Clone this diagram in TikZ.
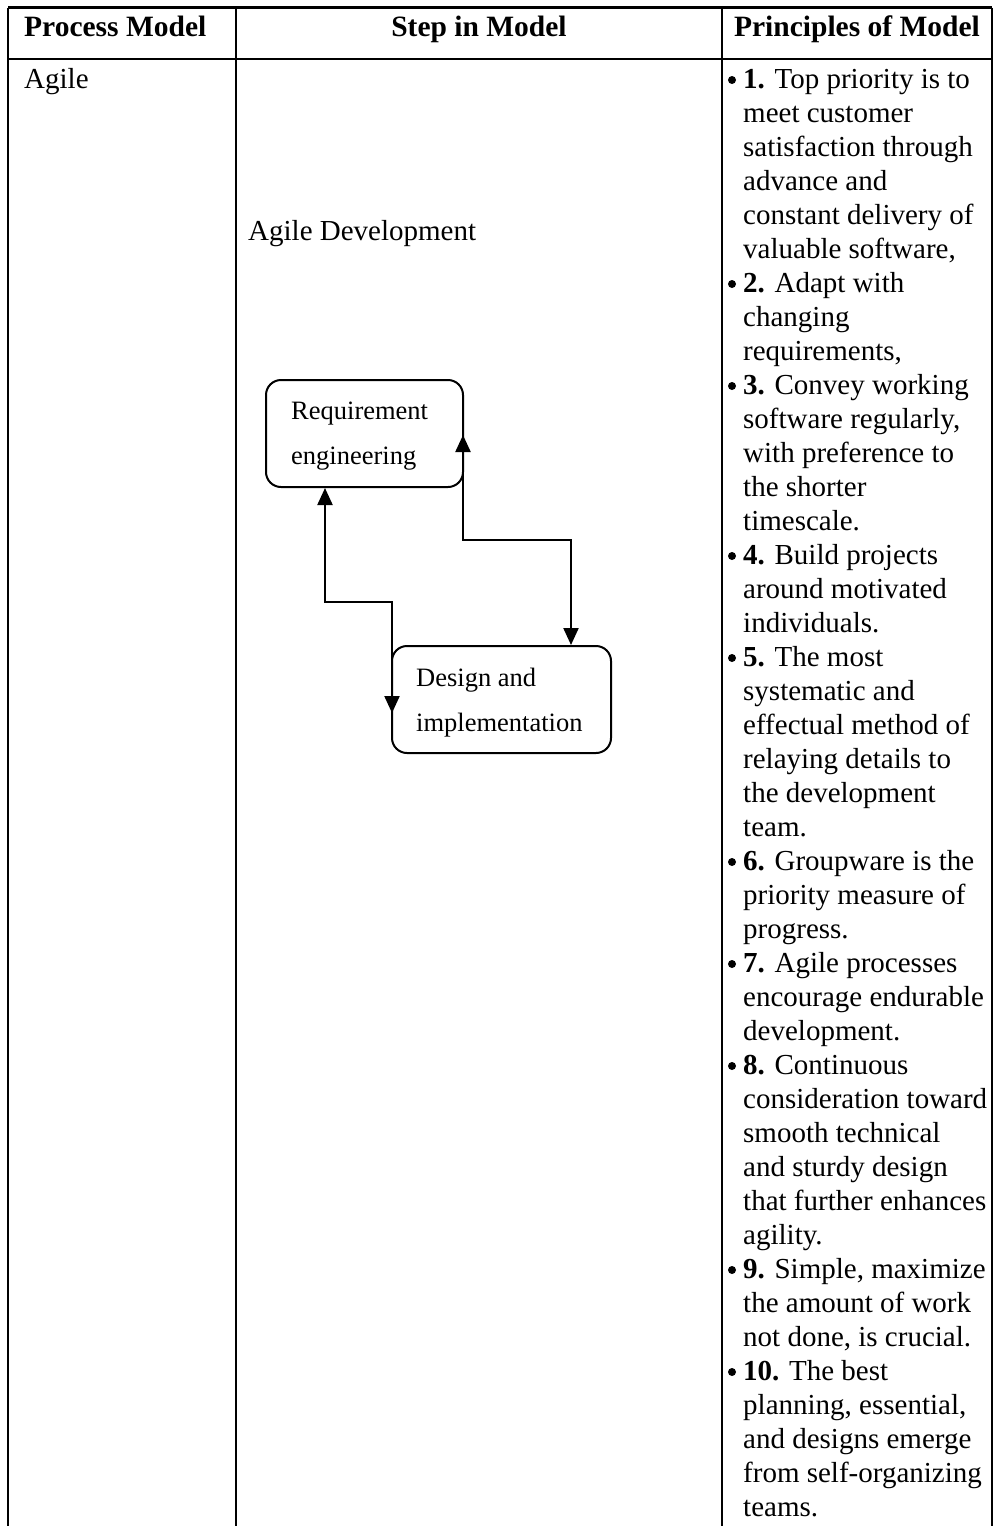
\documentclass[tikz,border=0pt]{standalone}
\usepackage{fontspec}
\setmainfont{Liberation Serif}
\usetikzlibrary{arrows.meta}
\begin{document}
\begin{tikzpicture}[x=1pt,y=-1pt,
  rule/.style={line width=2.5pt},
  bodytext/.style={anchor=base west,inner sep=0pt,font=\fontsize{29}{34}\selectfont},
  headtext/.style={anchor=base,inner sep=0pt,font=\fontsize{29.5}{34}\selectfont\bfseries},
  boxtext/.style={anchor=base west,inner sep=0pt,font=\fontsize{26.5}{30}\selectfont},
  stage/.style={draw,line width=2pt,rounded corners=15pt,inner sep=0pt,minimum height=107pt},
  flow/.style={line width=2.2pt,{Triangle[width=15pt,length=17pt]}-{Triangle[width=15pt,length=17pt]}}
]
\useasboundingbox (0,0) rectangle (995,1526);

% table grid
\draw[rule] (8,7.5) -- (992,7.5);
\draw[rule] (8,59) -- (992,59);
\foreach \x in {8,236,722,992} \draw[rule] (\x,7.5) -- (\x,1526);

% header row
\node[headtext,anchor=base west] (h1) at (24,36) {Process Model};
\node[headtext] (h2) at (479,36) {Step in Model};
\node[headtext] (h3) at (857,36) {Principles of Model};

% first column
\node[bodytext] (agile) at (24,88) {Agile};

% second column: process diagram
\node[bodytext] (title) at (248,240) {Agile Development};
\node[stage,minimum width=197pt] (req) at (364.5,433.5) {};
\node[stage,minimum width=219pt] (des) at (501.5,699.5) {};
\node[boxtext] (reqa) at (291,419) {Requirement};
\node[boxtext] (reqb) at (291,464) {engineering};
\node[boxtext] (desa) at (416,686) {Design and};
\node[boxtext] (desb) at (416,731) {implementation};

\coordinate (ka) at (325,602);
\coordinate (kc) at (392,713);
\coordinate (kd) at (463,435);
\coordinate (ke) at (571,540);
\draw[flow] (ka |- req.south) -- (ka) -- (kc |- ka) -- (kc);
\draw[flow] (kd) -- (kd |- ke) -- (ke) -- (ke |- des.north);

% third column: principles
\foreach \t [count=\i from 0] in {
  {\textbf{1.} Top priority is to},
  {meet customer},
  {satisfaction through},
  {advance and},
  {constant delivery of},
  {valuable software,},
  {\textbf{2.} Adapt with},
  {changing},
  {requirements,},
  {\textbf{3.} Convey working},
  {software regularly,},
  {with preference to},
  {the shorter},
  {timescale.},
  {\textbf{4.} Build projects},
  {around motivated},
  {individuals.},
  {\textbf{5.} The most},
  {systematic and},
  {effectual method of},
  {relaying details to},
  {the development},
  {team.},
  {\textbf{6.} Groupware is the},
  {priority measure of},
  {progress.},
  {\textbf{7.} Agile processes},
  {encourage endurable},
  {development.},
  {\textbf{8.} Continuous},
  {consideration toward},
  {smooth technical},
  {and sturdy design},
  {that further enhances},
  {agility.},
  {\textbf{9.} Simple, maximize},
  {the amount of work},
  {not done, is crucial.},
  {\textbf{10.} The best},
  {planning, essential,},
  {and designs emerge},
  {from self-organizing},
  {teams.}}
  \node[bodytext] (p\i) at (743,{88+34*\i}) {\t};

% bullets
\foreach \k in {0,6,9,14,17,23,26,29,35,38}
  \fill (732,{80+34*\k}) circle (4);
\end{tikzpicture}
\end{document}
